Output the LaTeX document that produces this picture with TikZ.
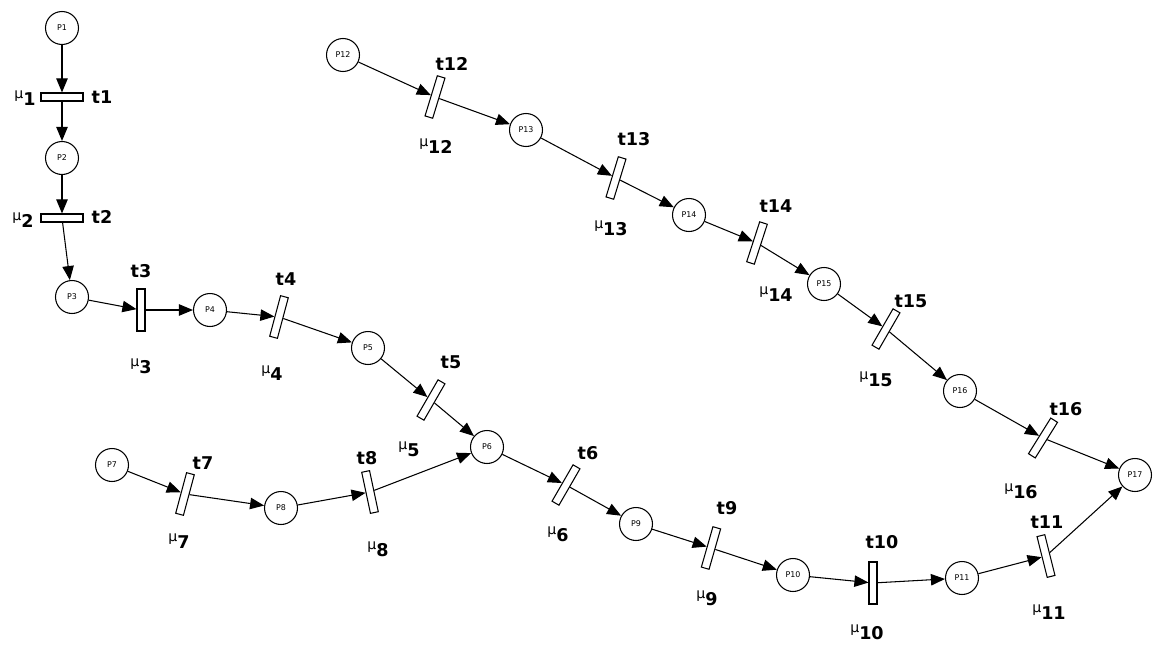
\documentclass[tikz,border=0pt]{standalone}
\usepackage{fontspec}
\setmainfont{DejaVu Sans}
\usetikzlibrary{arrows.meta}
\newcommand{\mulab}[1]{{\fontsize{8}{9}\selectfont μ}\raisebox{-0.7ex}{\bfseries #1}}

\begin{document}
\begin{tikzpicture}[x=0.02cm,y=-0.02cm,
	place/.style={circle,draw,line width=0.6pt,fill=white,minimum size=0.66cm,inner sep=0pt,font=\fontsize{4.5}{5}\selectfont},
	trans/.style={rectangle,draw,line width=0.6pt,fill=white,minimum width=0.16cm,minimum height=0.84cm,inner sep=0pt},
	arc/.style={-{Triangle[length=8pt,width=6.5pt]},line width=0.6pt},
	tlab/.style={font=\bfseries\fontsize{10}{12}\selectfont},
	mlab/.style={font=\fontsize{10}{12}\selectfont}]
	\useasboundingbox (0,0) rectangle (1161,659);
	% places
	\node[place] (p1) at (62,28) {P1};
	\node[place] (p2) at (62,158) {P2};
	\node[place] (p3) at (72,297) {P3};
	\node[place] (p4) at (210,310) {P4};
	\node[place] (p5) at (368,348) {P5};
	\node[place] (p6) at (487,447) {P6};
	\node[place] (p7) at (112,465) {P7};
	\node[place] (p8) at (281,508) {P8};
	\node[place] (p9) at (636,524) {P9};
	\node[place] (p10) at (793,575) {P10};
	\node[place] (p11) at (962,578) {P11};
	\node[place] (p12) at (343,55) {P12};
	\node[place] (p13) at (526,130) {P13};
	\node[place] (p14) at (689,215) {P14};
	\node[place] (p15) at (824,284) {P15};
	\node[place] (p16) at (960,391) {P16};
	\node[place] (p17) at (1135,475) {P17};
	% transitions
	\node[trans,rotate=90] (t1) at (62,97) {};
	\node[trans,rotate=90] (t2) at (62,218) {};
	\node[trans] (t3) at (141,310) {};
	\node[trans,rotate=-15] (t4) at (279,317) {};
	\node[trans,rotate=-30] (t5) at (431,400) {};
	\node[trans,rotate=-30] (t6) at (566,485) {};
	\node[trans,rotate=-15] (t7) at (185,494) {};
	\node[trans,rotate=12] (t8) at (370,492) {};
	\node[trans,rotate=-16] (t9) at (711,548) {};
	\node[trans] (t10) at (873,583) {};
	\node[trans,rotate=14] (t11) at (1046,556) {};
	\node[trans,rotate=-17] (t12) at (435,97) {};
	\node[trans,rotate=-17] (t13) at (616,178) {};
	\node[trans,rotate=-18] (t14) at (757,243) {};
	\node[trans,rotate=-30] (t15) at (886,329) {};
	\node[trans,rotate=-32] (t16) at (1043,438) {};
	% arcs
	\foreach \a/\b in {p1/t1,t1/p2,p2/t2,t2/p3,p3/t3,t3/p4,p4/t4,t4/p5,p5/t5,t5/p6,
		p6/t6,t6/p9,p9/t9,t9/p10,p10/t10,t10/p11,p11/t11,t11/p17,
		p7/t7,t7/p8,p8/t8,t8/p6,
		p12/t12,t12/p13,p13/t13,t13/p14,p14/t14,t14/p15,p15/t15,t15/p16,p16/t16,t16/p17}
		\draw[arc] (\a) -- (\b);
	% labels
	\foreach \n/\x/\y in {1/102/97,2/102/217,3/141/271,4/286/279,5/451/362,6/588/453,7/203/463,8/367/458,
		9/727/508,10/882/542,11/1047/522,12/452/64,13/634/139,14/776/206,15/911/301,16/1066/409}
		\node[tlab] (l\n) at (\x,\y) {t\n};
	\foreach \n/\x/\y in {1/25/98,2/23/220,3/141/366,4/272/373,5/409/449,6/558/534,7/179/541,8/378/549,
		9/707/598,10/867/632,11/1049/612,12/436/146,13/611/228,14/776/294,15/876/379,16/1021/491}
		\node[mlab] (m\n) at (\x,\y) {\mulab{\n}};
\end{tikzpicture}
\end{document}
